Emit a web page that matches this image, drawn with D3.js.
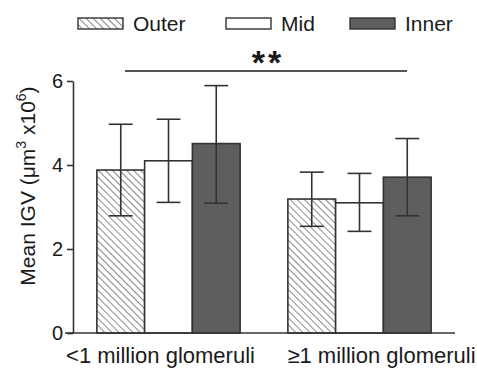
<!DOCTYPE html>
<html>
<head>
<meta charset="utf-8">
<script src="https://cdn.jsdelivr.net/npm/d3@7"></script>
<style>
  body { margin: 0; background: #fff; }
  text { font-family: "Liberation Sans", Arial, sans-serif; fill: #1a1a1a; }
</style>
</head>
<body>
<script>
// data
var groups = ["<1 million glomeruli", "\u22651 million glomeruli"];
var series = ["Outer", "Mid", "Inner"];
var means = [
  [3.88, 4.10, 4.51],
  [3.19, 3.10, 3.71]
];
var errLow = [
  [2.79, 3.11, 3.09],
  [2.54, 2.42, 2.79]
];
var errHigh = [
  [4.97, 5.09, 5.89],
  [3.83, 3.80, 4.63]
];
var yTicks = [0, 2, 4, 6];

var width = 477, height = 371;
var svg = d3.select("body").append("svg")
    .attr("width", width)
    .attr("height", height);

var defs = svg.append("defs");
var pat = defs.append("pattern")
    .attr("id", "hatch")
    .attr("patternUnits", "userSpaceOnUse")
    .attr("width", 5)
    .attr("height", 5)
    .attr("patternTransform", "rotate(-45)");
pat.append("rect").attr("width", 5).attr("height", 5).attr("fill", "#fff");
pat.append("line")
    .attr("x1", 0).attr("y1", 0).attr("x2", 0).attr("y2", 5)
    .attr("stroke", "#3a3a3a").attr("stroke-width", 1.2);

var fills = { Outer: "url(#hatch)", Mid: "#fff", Inner: "#5e5e5e" };

var y = d3.scaleLinear().domain([0, 6]).range([333, 81]);
var x0 = d3.scaleBand().domain(groups).range([73, 455])
    .paddingInner(0.25).paddingOuter(0.125);
var x1 = d3.scaleBand().domain(series).range([0, x0.bandwidth()]);

// bars
var g = svg.selectAll(".grp")
    .data(groups)
  .enter().append("g")
    .attr("class", "grp")
    .attr("transform", function(d) { return "translate(" + x0(d) + ",0)"; });

g.selectAll("rect")
    .data(function(d, i) { return series.map(function(s, j) { return {s: s, v: means[i][j]}; }); })
  .enter().append("rect")
    .attr("x", function(d) { return x1(d.s); })
    .attr("width", x1.bandwidth())
    .attr("y", function(d) { return y(d.v); })
    .attr("height", function(d) { return y(0) - y(d.v); })
    .attr("fill", function(d) { return fills[d.s]; })
    .attr("stroke", "#333")
    .attr("stroke-width", 1.6);

// error bars
var eb = g.selectAll(".err")
    .data(function(d, i) { return series.map(function(s, j) { return {s: s, lo: errLow[i][j], hi: errHigh[i][j]}; }); })
  .enter().append("g")
    .attr("class", "err")
    .attr("stroke", "#333")
    .attr("stroke-width", 1.6);
var cx = function(d) { return x1(d.s) + x1.bandwidth() / 2; };
var cap = x1.bandwidth() / 4;
eb.append("line")
    .attr("x1", cx).attr("x2", cx)
    .attr("y1", function(d) { return y(d.lo); })
    .attr("y2", function(d) { return y(d.hi); });
eb.append("line")
    .attr("x1", function(d) { return cx(d) - cap; })
    .attr("x2", function(d) { return cx(d) + cap; })
    .attr("y1", function(d) { return y(d.hi); })
    .attr("y2", function(d) { return y(d.hi); });
eb.append("line")
    .attr("x1", function(d) { return cx(d) - cap; })
    .attr("x2", function(d) { return cx(d) + cap; })
    .attr("y1", function(d) { return y(d.lo); })
    .attr("y2", function(d) { return y(d.lo); });

// y axis
var yAxis = svg.append("g")
    .attr("transform", "translate(73,0)")
    .call(d3.axisLeft(y).tickValues(yTicks).tickFormat(d3.format("d"))
      .tickSize(6).tickPadding(4).tickSizeOuter(0));
yAxis.select(".domain").attr("stroke", "#333").attr("stroke-width", 1.6);
yAxis.selectAll(".tick line").attr("stroke", "#333").attr("stroke-width", 1.6);
yAxis.selectAll(".tick text")
    .style("font-family", "Liberation Sans, Arial, sans-serif")
    .style("font-size", "20px")
    .attr("fill", "#1a1a1a");

// baseline
svg.append("line")
    .attr("x1", 65).attr("x2", 455)
    .attr("y1", y(0)).attr("y2", y(0))
    .attr("stroke", "#333").attr("stroke-width", 1.6);

// group labels
var labelShift = [-8, 22];
svg.selectAll(".glabel")
    .data(groups)
  .enter().append("text")
    .attr("class", "glabel")
    .attr("x", function(d, i) { return x0(d) + x0.bandwidth() / 2 + labelShift[i]; })
    .attr("y", 363)
    .attr("text-anchor", "middle")
    .style("font-size", "22px")
    .text(function(d) { return d; });

// y title
var yt = svg.append("text")
    .attr("transform", "translate(35,186) rotate(-90)")
    .attr("text-anchor", "middle")
    .style("font-size", "21px");
yt.append("tspan").text("Mean IGV (\u03bcm");
yt.append("tspan").attr("dy", -9).style("font-size", "14px").text("3");
yt.append("tspan").attr("dy", 9).text(" x10");
yt.append("tspan").attr("dy", -9).style("font-size", "14px").text("6");
yt.append("tspan").attr("dy", 9).text(")");

// significance
svg.append("line")
    .attr("x1", 125).attr("x2", 407)
    .attr("y1", 71).attr("y2", 71)
    .attr("stroke", "#555").attr("stroke-width", 2);
svg.append("text")
    .attr("x", 268).attr("y", 74)
    .attr("text-anchor", "middle")
    .style("font-size", "34px")
    .style("font-weight", "bold")
    .style("letter-spacing", "3px")
    .text("**");

// legend
var legX = [78, 226, 350];
var leg = svg.selectAll(".leg")
    .data(series)
  .enter().append("g")
    .attr("class", "leg")
    .attr("transform", function(d, i) { return "translate(" + legX[i] + ",18)"; });
leg.append("rect")
    .attr("width", 45).attr("height", 11)
    .attr("fill", function(d) { return fills[d]; })
    .attr("stroke", "#333").attr("stroke-width", 1.4);
leg.append("text")
    .attr("x", 55).attr("y", 13)
    .style("font-size", "21px")
    .text(function(d) { return d; });
</script>
</body>
</html>
